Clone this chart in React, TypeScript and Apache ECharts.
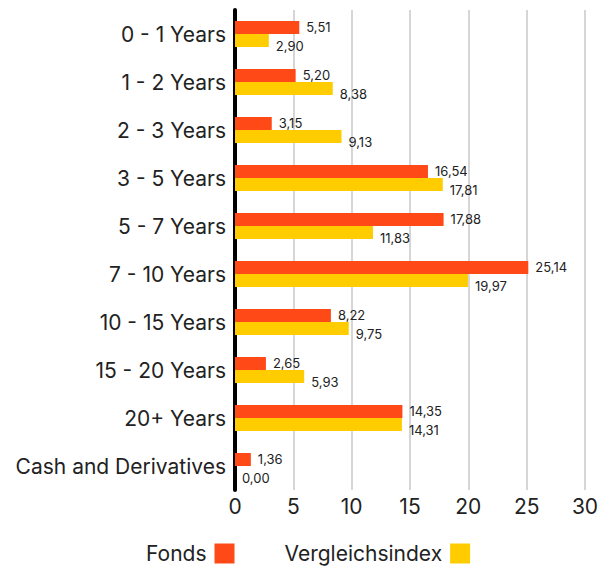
import React, { useEffect, useRef } from "react";
import * as echarts from "echarts";

const categories = [
  "0 - 1 Years",
  "1 - 2 Years",
  "2 - 3 Years",
  "3 - 5 Years",
  "5 - 7 Years",
  "7 - 10 Years",
  "10 - 15 Years",
  "15 - 20 Years",
  "20+ Years",
  "Cash and Derivatives",
];
const fonds = [5.51, 5.2, 3.15, 16.54, 17.88, 25.14, 8.22, 2.65, 14.35, 1.36];
const vergleichsindex = [2.9, 8.38, 9.13, 17.81, 11.83, 19.97, 9.75, 5.93, 14.31, 0.0];

const FONT = "Inter, 'Noto Sans', sans-serif";
const fmt = (p: any) => Number(p.value).toFixed(2).replace(".", ",");

export default function App() {
  const ref = useRef<HTMLDivElement>(null);
  useEffect(() => {
    const chart = echarts.init(ref.current!, undefined, { renderer: "svg" });
    chart.setOption({
      animation: false,
      textStyle: { fontFamily: FONT },
      grid: { left: 235, right: 23, top: 10, bottom: 84, containLabel: false },
      legend: {
        bottom: 5,
        left: 141,
        align: "right",
        itemWidth: 20,
        itemHeight: 20,
        itemGap: 50,
        icon: "rect",
        textStyle: { fontSize: 21, color: "#222", fontFamily: FONT, padding: [0, 3, 0, 0] },
        data: ["Fonds", "Vergleichsindex"],
      },
      xAxis: {
        type: "value",
        min: 0,
        max: 30,
        interval: 5,
        axisLine: { show: false },
        axisTick: { show: false },
        splitLine: { show: true, lineStyle: { color: "#c8c8c8", width: 1.5 } },
        axisLabel: { fontSize: 21, color: "#222", margin: 6, fontFamily: FONT },
      },
      yAxis: {
        type: "category",
        inverse: true,
        data: categories,
        axisLine: { show: true, lineStyle: { color: "#000", width: 4 } },
        axisTick: { show: false },
        axisLabel: { fontSize: 21, color: "#222", margin: 9, fontFamily: FONT },
      },
      series: [
        {
          name: "Fonds",
          type: "bar",
          data: fonds,
          barWidth: 13,
          barGap: "0%",
          itemStyle: { color: "#FF4A17" },
          label: {
            show: true,
            position: "right",
            distance: 7,
            offset: [0, -1],
            formatter: fmt,
            fontSize: 13,
            color: "#222",
            fontFamily: FONT,
          },
        },
        {
          name: "Vergleichsindex",
          type: "bar",
          data: vergleichsindex,
          barWidth: 13,
          barGap: "0%",
          itemStyle: { color: "#FFCC00" },
          label: {
            show: true,
            position: "right",
            distance: 7,
            offset: [0, 5],
            formatter: fmt,
            fontSize: 13,
            color: "#222",
            fontFamily: FONT,
          },
        },
      ],
    });
    return () => chart.dispose();
  }, []);
  return <div ref={ref} style={{ width: 608, height: 574, position: "absolute", left: 0, top: 0 }} />;
}
